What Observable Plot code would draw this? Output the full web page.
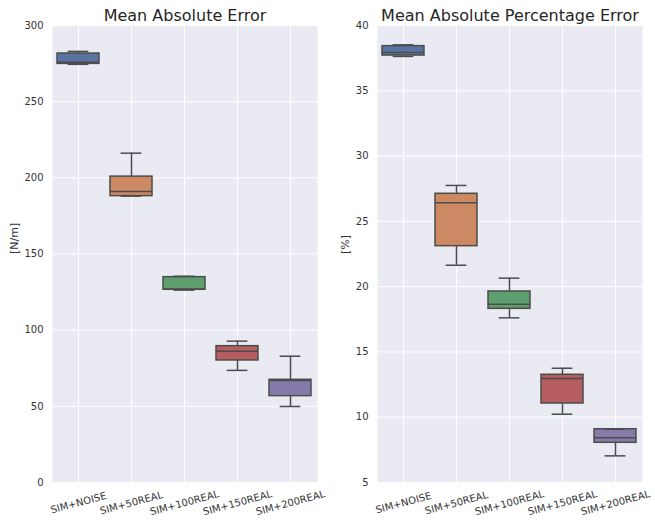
<!DOCTYPE html>
<html>
<head>
<meta charset="utf-8">
<script src="https://cdn.jsdelivr.net/npm/d3@7"></script>
<script src="https://cdn.jsdelivr.net/npm/@observablehq/plot@0.6"></script>
<style>
  html, body { margin: 0; padding: 0; background: white; }
  #wrap { position: relative; width: 655px; height: 520px; overflow: hidden; }
  #left { position: absolute; left: 0; top: 0; }
  #right { position: absolute; left: 327px; top: 0; }
</style>
</head>
<body>
<div id="wrap"><div id="left"></div><div id="right"></div></div>
<script>
const categories = ["SIM+NOISE", "SIM+50REAL", "SIM+100REAL", "SIM+150REAL", "SIM+200REAL"];
const colors = ["#5874A3", "#CC8963", "#5F9E6E", "#B55D60", "#867AAB"];

// Mean Absolute Error [N/m]
const maeLow  = [274.5, 188.0, 126.3, 73.6, 49.9];
const maeQ1   = [274.8, 188.0, 126.5, 80.1, 56.7];
const maeMed  = [275.8, 191.0, 127.0, 86.2, 67.0];
const maeQ3   = [281.6, 200.8, 134.8, 89.5, 67.4];
const maeHigh = [283.0, 216.2, 135.4, 92.8, 82.9];
const maeTicks = [0, 50, 100, 150, 200, 250, 300];

// Mean Absolute Percentage Error [%]
const mapeLow  = [37.63, 21.64, 17.61, 10.23, 7.04];
const mapeQ1   = [37.70, 23.10, 18.30, 11.05, 8.04];
const mapeMed  = [37.93, 26.42, 18.66, 12.96, 8.42];
const mapeQ3   = [38.42, 27.11, 19.63, 13.25, 9.08];
const mapeHigh = [38.52, 27.75, 20.65, 13.75, 9.08];
const mapeTicks = [5, 10, 15, 20, 25, 30, 35, 40];

const edge = "#4c4c4c";

function rowsOf(lo, q1, med, q3, hi) {
  return categories.map((c, i) => ({cat: c, lo: lo[i], q1: q1[i], med: med[i], q3: q3[i], hi: hi[i]}));
}

function panel({rows, ticks, domain, title, ylabel, width, marginLeft, marginRight, labelDx}) {
  const capInset = ((width - marginLeft - marginRight) / categories.length) * 0.8 / 4;
  return Plot.plot({
    width, height: 520,
    marginLeft, marginRight, marginTop: 25, marginBottom: 38,
    style: {fontFamily: "DejaVu Sans", fontSize: "10px", color: "#333", background: "white", overflow: "visible"},
    x: {domain: categories, paddingInner: 0.2, paddingOuter: 0.1, axis: null},
    y: {domain, axis: null},
    color: {domain: categories, range: colors},
    marks: [
      Plot.frame({fill: "#EAEAF2", stroke: "none"}),
      Plot.gridY(ticks, {stroke: "white", strokeOpacity: 1, strokeWidth: 1}),
      Plot.gridX(categories, {stroke: "white", strokeOpacity: 1, strokeWidth: 1}),
      Plot.ruleX(rows, {x: "cat", y1: "lo", y2: "hi", stroke: edge, strokeWidth: 1.5}),
      Plot.barY(rows, {x: "cat", y1: "q1", y2: "q3", fill: "cat", stroke: edge, strokeWidth: 1.5}),
      Plot.tickY(rows, {x: "cat", y: "med", stroke: edge, strokeWidth: 1.5}),
      Plot.tickY(rows, {x: "cat", y: "hi", stroke: edge, strokeWidth: 1.5, inset: capInset}),
      Plot.tickY(rows, {x: "cat", y: "lo", stroke: edge, strokeWidth: 1.5, inset: capInset}),
      Plot.axisY(ticks, {tickSize: 0, tickPadding: 9, label: null, fontSize: 10, fill: "#333"}),
      Plot.text([ylabel], {text: d => d, frameAnchor: "left", rotate: -90, dx: labelDx, fontSize: 11, fill: "#333"}),
      Plot.text(categories, {x: d => d, text: d => d, frameAnchor: "bottom", dy: 20.5, rotate: -15, textAnchor: "middle", lineAnchor: "middle", fontSize: 10, fill: "#333"}),
      Plot.text([title], {text: d => d, frameAnchor: "top", dy: -9.5, lineAnchor: "middle", fontSize: 16, fill: "#262626"})
    ]
  });
}

document.getElementById("left").append(panel({
  rows: rowsOf(maeLow, maeQ1, maeMed, maeQ3, maeHigh),
  ticks: maeTicks, domain: [0, 300],
  title: "Mean Absolute Error", ylabel: "[N/m]",
  width: 327, marginLeft: 52, marginRight: 10, labelDx: -38
}));
document.getElementById("right").append(panel({
  rows: rowsOf(mapeLow, mapeQ1, mapeMed, mapeQ3, mapeHigh),
  ticks: mapeTicks, domain: [5, 40],
  title: "Mean Absolute Percentage Error", ylabel: "[%]",
  width: 328, marginLeft: 50, marginRight: 13, labelDx: -32
}));
</script>
</body>
</html>
